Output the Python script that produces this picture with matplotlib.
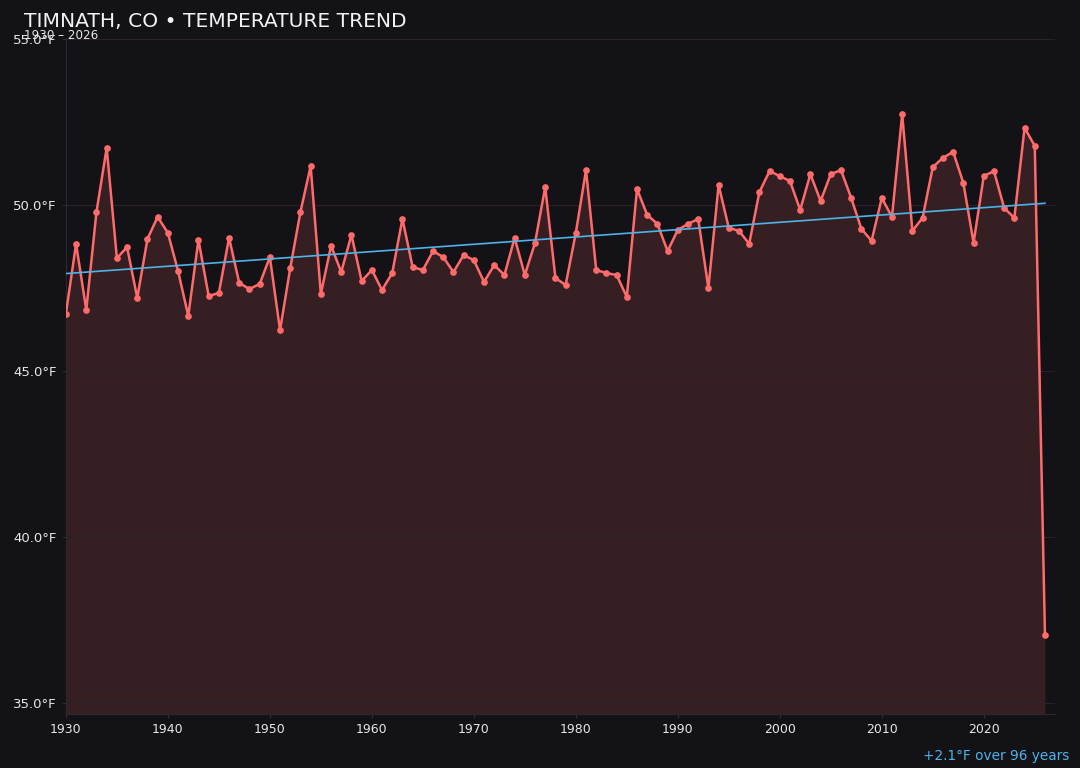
import numpy as np
import matplotlib
matplotlib.use("Agg")
import matplotlib.pyplot as plt

# yearly mean temperature, Timnath CO (deg F)
years = np.arange(1930, 2027)
temps = [
    46.72, 48.83, 46.84, 49.79, 51.72, 48.40, 48.73, 47.20, 48.98, 49.64,
    49.16, 48.01, 46.66, 48.95, 47.26, 47.35, 49.01, 47.65, 47.47, 47.62,
    48.43, 46.23, 48.10, 49.79, 51.17, 47.32, 48.77, 47.98, 49.10, 47.71,
    48.04, 47.44, 47.95, 49.58, 48.13, 48.04, 48.61, 48.43, 47.98, 48.49,
    48.34, 47.68, 48.19, 47.89, 49.01, 47.89, 48.86, 50.54, 47.80, 47.59,
    49.16, 51.05, 48.04, 47.95, 47.89, 47.23, 50.48, 49.70, 49.43, 48.61,
    49.25, 49.43, 49.58, 47.50, 50.60, 49.31, 49.22, 48.83, 50.39, 51.02,
    50.87, 50.72, 49.85, 50.93, 50.12, 50.93, 51.05, 50.21, 49.28, 48.92,
    50.21, 49.64, 52.74, 49.22, 49.61, 51.14, 51.42, 51.60, 50.66, 48.86,
    50.87, 51.02, 49.91, 49.61, 52.32, 51.78, 37.05,
]
yticks = [35.0, 40.0, 45.0, 50.0, 55.0]
xticks = [1930, 1940, 1950, 1960, 1970, 1980, 1990, 2000, 2010, 2020]

bg = "#131217"
line_col = "#ff6b6b"
trend_col = "#4fb3e8"

fig = plt.figure(figsize=(10.8, 7.68), dpi=100, facecolor=bg)
ax = fig.add_axes([0.061, 0.0703, 0.916, 0.879])
ax.set_facecolor(bg)

ymin = 34.67
ax.fill_between(years, temps, ymin, color=line_col, alpha=0.15, linewidth=0)
ax.plot(years, temps, color=line_col, lw=1.8, marker="o", ms=3.8, zorder=3)

# linear trend
slope, icpt = np.polyfit(years, temps, 1)
ax.plot(years, slope * years + icpt, color=trend_col, lw=1.2, zorder=4)

ax.set_xlim(1930, 2027)
ax.set_ylim(ymin, 55.0)
ax.set_xticks(xticks)
ax.set_yticks(yticks)
ax.set_yticklabels([f"{v:.1f}°F" for v in yticks])
ax.tick_params(colors="#2e2d33", labelcolor="#e6e6e6", labelsize=9, length=3)
ax.tick_params(axis="y", labelsize=9.5)
ax.grid(axis="y", color="#2a2228", lw=0.8)
for s in ["top", "right"]:
    ax.spines[s].set_visible(False)
for s in ["left", "bottom"]:
    ax.spines[s].set_color("#2a292f")

fig.text(0.022, 0.972, "TIMNATH, CO • TEMPERATURE TREND", color="#f2f2f2",
         fontsize=14.6, va="center", ha="left")
fig.text(0.022, 0.954, "1930 – 2026", color="#e6e6e6", fontsize=8.6,
         va="center", ha="left")
fig.text(0.990, 0.016, "+2.1°F over 96 years", color=trend_col, fontsize=9.8,
         ha="right", va="center")

fig.savefig("out.png", dpi=100, facecolor=bg)
